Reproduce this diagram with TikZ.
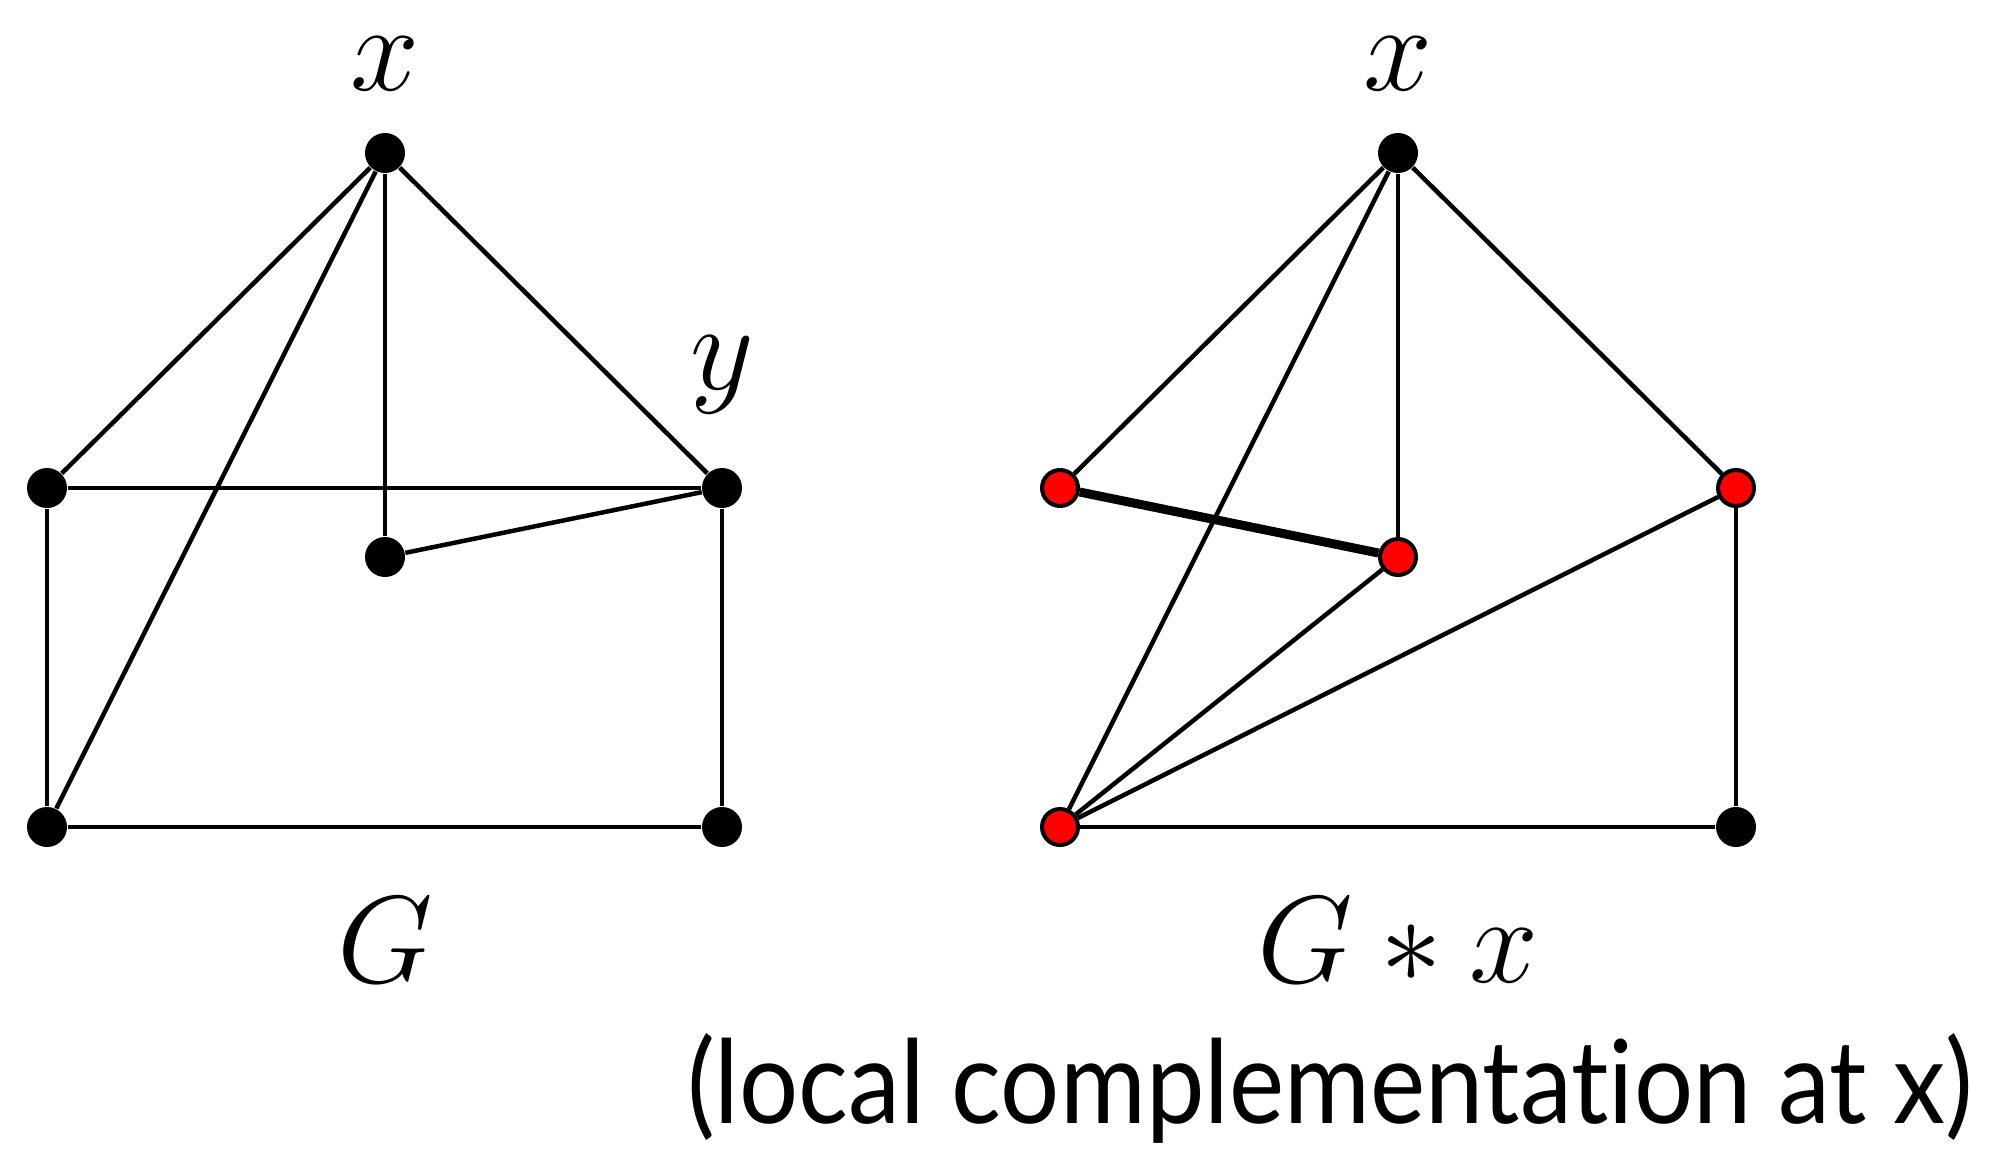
\documentclass[tikz,border=0pt]{standalone}
\usepackage{graphicx}
\usepackage{fontspec}
\setsansfont{Lato}[Ligatures=NoCommon]
\usetikzlibrary{positioning}

\newcommand{\biglbl}[1]{\scalebox{1.7}{\huge$#1$}}

\tikzset{
  vert/.style={circle, fill=black, inner sep=0pt, minimum size=0.4cm},
  redvert/.style={circle, draw=black, fill=red, line width=0.04cm, inner sep=0pt, minimum size=0.36cm},
  edge/.style={line width=0.045cm},
  boldedge/.style={line width=0.09cm},
  lbl/.style={inner sep=0pt}
}

\begin{document}
\begin{tikzpicture}[x=1cm, y=1cm]
  \useasboundingbox (0,0) rectangle (19.93,11.48);

  % ---------------------------------------------------------
  % LEFT GRAPH: G
  % ---------------------------------------------------------
  \node[vert] (x) at (3.85,9.95) {};
  \node[vert] (lt) at (0.47,6.60) {};
  \node[vert] (y) at (7.22,6.60) {};
  \node[vert] (c) at (3.85,5.91) {};
  \node[vert] (bl) at (0.47,3.21) {};
  \node[vert] (br) at (7.22,3.21) {};

  \draw[edge] (x) -- (lt);
  \draw[edge] (x) -- (bl);
  \draw[edge] (x) -- (c);
  \draw[edge] (x) -- (y);
  \draw[edge] (lt) -- (y);
  \draw[edge] (c) -- (y);
  \draw[edge] (lt) -- (bl);
  \draw[edge] (bl) -- (br);
  \draw[edge] (y) -- (br);

  \node[lbl] (xlab) at (3.85,10.84) {\biglbl{x}};
  \node[lbl] (ylab) at (7.22,7.73) {\biglbl{y}};
  \node[lbl] (glab) at (3.85,2.08) {\biglbl{G}};

  % ---------------------------------------------------------
  % RIGHT GRAPH: G * x
  % ---------------------------------------------------------
  \node[vert] (rx) at (13.98,9.95) {};
  \node[redvert] (rl) at (10.60,6.60) {};
  \node[redvert] (rr) at (17.36,6.60) {};
  \node[redvert] (rc) at (13.98,5.91) {};
  \node[redvert] (rbl) at (10.60,3.21) {};
  \node[vert] (rbr) at (17.36,3.21) {};

  \draw[edge] (rx) -- (rl);
  \draw[edge] (rx) -- (rbl);
  \draw[edge] (rx) -- (rc);
  \draw[edge] (rx) -- (rr);
  \draw[boldedge] (rl) -- (rc);
  \draw[edge] (rc) -- (rbl);
  \draw[edge] (rr) -- (rbl);
  \draw[edge] (rbl) -- (rbr);
  \draw[edge] (rr) -- (rbr);

  \node[lbl] (rxlab) at (13.98,10.84) {\biglbl{x}};
  \node[lbl] (gxlab) at (13.98,2.08) {\biglbl{G * x}};

  \node[font=\sffamily\fontsize{33}{40}\selectfont, xscale=0.9] (caption) at (13.3,0.6) {(local complementation at x)};
\end{tikzpicture}
\end{document}
